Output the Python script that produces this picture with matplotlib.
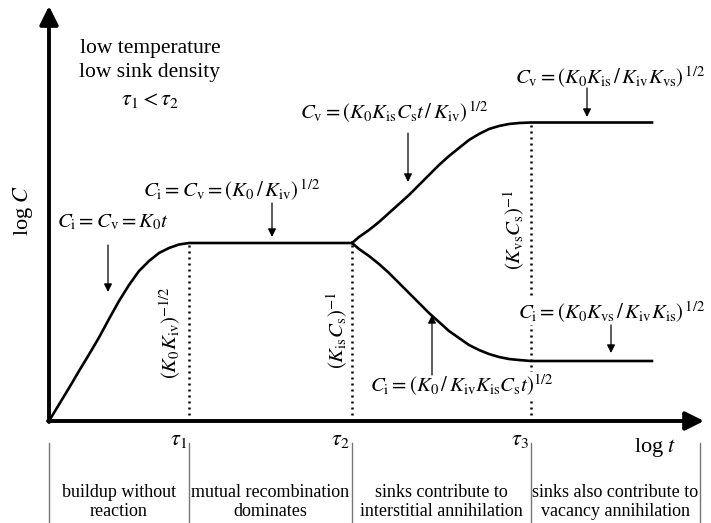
import matplotlib
matplotlib.use("Agg")
import matplotlib.pyplot as plt

plt.rcParams['font.family'] = ['Liberation Serif', 'DejaVu Serif']
plt.rcParams['mathtext.fontset'] = 'stix'

# log t / log C values (arbitrary units, origin at 0)
t_rise = [0, 1, 2, 3, 4, 5, 6, 7, 8, 9, 10, 11, 12, 13, 14.0, 30.3]
c_rise = [0, 1.65, 3.3, 5.0, 6.65, 8.35, 10.2, 12.0, 13.6, 15.0, 16.0, 16.8, 17.3, 17.65, 17.8, 17.8]

t_branch = [30.3, 31, 32, 33, 34, 35, 36, 37, 38, 39, 40, 41, 42, 43, 44, 45, 46, 47, 48.2, 60.3]
cv_branch = [17.8, 18.4, 19.1, 19.9, 20.8, 21.7, 22.6, 23.6, 24.6, 25.6, 26.5, 27.3, 28.1, 28.7,
             29.2, 29.5, 29.7, 29.8, 29.85, 29.85]
ci_branch = [17.8, 17.2, 16.5, 15.7, 14.8, 13.8, 12.8, 11.8, 10.8, 9.9, 9.0, 8.3, 7.6, 7.1,
             6.7, 6.4, 6.2, 6.1, 6.0, 6.0]

tau = [14.0, 30.3, 48.2]
tau_labels = [r'$\tau_1$', r'$\tau_2$', r'$\tau_3$']
tau_top = [17.8, 17.8, 29.85]
tau_rot = [r'$(K_0K_{\mathrm{iv}})^{-1/2}$', r'$(K_{\mathrm{is}}C_{\mathrm{s}})^{-1}$',
           r'$(K_{\mathrm{vs}}C_{\mathrm{s}})^{-1}$']

regions = ['buildup without\nreaction', 'mutual recombination\ndominates',
           'sinks contribute to\ninterstitial annihilation',
           'sinks also contribute to\nvacancy annihilation']
t_end = 65.1

fig = plt.figure(figsize=(7.11, 5.23), dpi=100)
ax = fig.add_axes([0, 0, 1, 1])
ax.set_xlim(-4.9, 66.2)
ax.set_ylim(-10.2, 42.1)
ax.axis('off')

# axes with arrow heads
ax.annotate('', xy=(65.5, 0), xytext=(-0.1, 0),
            arrowprops=dict(arrowstyle='-|>', lw=2.8, color='black', mutation_scale=28,
                            shrinkA=0, shrinkB=0))
ax.annotate('', xy=(0, 41.5), xytext=(0, -0.1),
            arrowprops=dict(arrowstyle='-|>', lw=2.8, color='black', mutation_scale=28,
                            shrinkA=0, shrinkB=0))

# curves
ax.plot(t_rise, c_rise, color='black', lw=1.9, solid_capstyle='round')
ax.plot(t_branch, cv_branch, color='black', lw=1.9)
ax.plot(t_branch, ci_branch, color='black', lw=1.9)

# dotted markers + tau labels
for x, top, lab in zip(tau, tau_top, tau_labels):
    ax.plot([x, x], [0, top], color='black', lw=1.8, linestyle=(0, (0.8, 1.6)))
    ax.text(x - 0.2, -1.0, lab, ha='right', va='top', fontsize=16)

rot_pos = [(12.1, 8.8), (28.8, 9.1), (46.5, 19.1)]
for (x, y), lab in zip(rot_pos, tau_rot):
    ax.text(x, y, lab, rotation=90, ha='center', va='center', fontsize=15)

ax.text(-2.6, 21.1, r'log $C$', rotation=90, ha='center', va='center', fontsize=16)
ax.text(60.6, -1.5, r'log $t$', ha='center', va='top', fontsize=16)

ax.text(10.1, 37.3, 'low temperature', ha='center', va='center', fontsize=15.5)
ax.text(10.1, 34.8, 'low sink density', ha='center', va='center', fontsize=15.5)
ax.text(10.1, 32.1, r'$\tau_1 < \tau_2$', ha='center', va='center', fontsize=16)

eqs = [
    (6.4, 19.9, r'$C_{\mathrm{i}} = C_{\mathrm{v}} = K_0t$', (5.9, 17.6), (5.9, 12.9)),
    (18.3, 23.1, r'$C_{\mathrm{i}} = C_{\mathrm{v}} = (K_0\,/\,K_{\mathrm{iv}})^{\,1/2}$', (22.3, 21.8), (22.3, 18.4)),
    (34.5, 30.9, r'$C_{\mathrm{v}} = (K_0K_{\mathrm{is}}C_{\mathrm{s}}t\,/\,K_{\mathrm{iv}})^{\,1/2}$', (35.9, 28.8), (35.9, 23.9)),
    (56.1, 34.4, r'$C_{\mathrm{v}} = (K_0K_{\mathrm{is}}\,/\,K_{\mathrm{iv}}K_{\mathrm{vs}})^{\,1/2}$', (53.8, 33.3), (53.8, 30.4)),
    (56.3, 10.9, r'$C_{\mathrm{i}} = (K_0K_{\mathrm{vs}}\,/\,K_{\mathrm{iv}}K_{\mathrm{is}})^{\,1/2}$', (56.2, 9.6), (56.2, 6.8)),
    (41.3, 3.6, r'$C_{\mathrm{i}} = (K_0\,/\,K_{\mathrm{iv}}K_{\mathrm{is}}C_{\mathrm{s}}t)^{1/2}$', (38.3, 4.6), (38.3, 10.6)),
]
for x, y, lab, a0, a1 in eqs:
    ax.text(x, y, lab, ha='center', va='center', fontsize=15, zorder=3,
            bbox=dict(facecolor='white', edgecolor='none', pad=0.5))
    ax.annotate('', xy=a1, xytext=a0,
                arrowprops=dict(arrowstyle='-|>', lw=0.9, color='black', mutation_scale=12,
                                shrinkA=0, shrinkB=0))

# regime boxes below the time axis
edges = [0] + tau + [t_end]
for x in edges:
    ax.plot([x, x], [-2.2, -10.2], color='#777777', lw=1.0)
for i, lab in enumerate(regions):
    ax.text((edges[i] + edges[i + 1]) / 2, -8.1, lab, ha='center', va='center',
            fontsize=13, linespacing=1.15)

fig.savefig('out.png', dpi=100)
